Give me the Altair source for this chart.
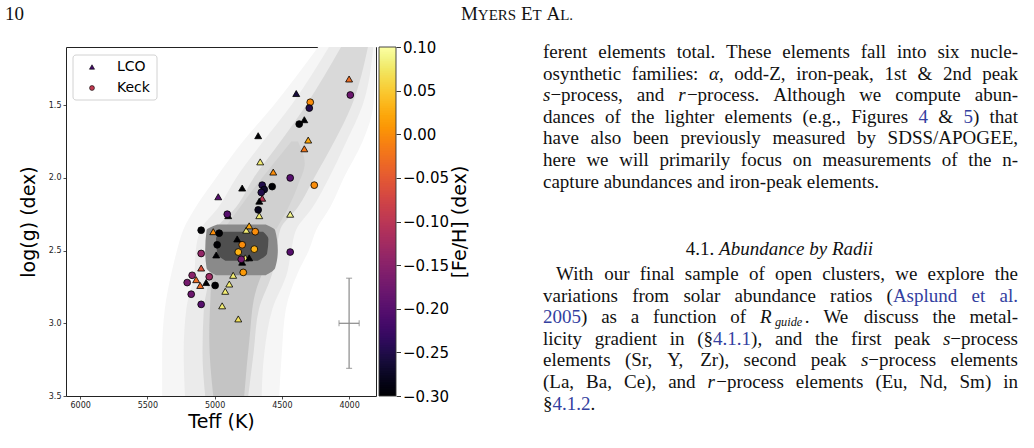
import re
import altair as alt
import numpy as np
import pandas as pd

# ---------------- spectroscopic sample ----------------
# LCO stars (triangles)
lco_teff = [4000, 4393, 4333, 4304, 4333, 4676, 4661, 4564, 4646, 4668, 4795, 4973, 4899, 4668, 4438,
            5010, 4765, 4743, 4832, 4988, 4772, 4743, 4795, 5100, 5137, 5063, 5107, 4862, 4891, 4921,
            4944, 4824]
lco_logg = [1.32, 1.42, 1.60, 1.74, 1.80, 1.71, 1.89, 1.96, 2.14, 2.16, 2.07, 2.13, 2.26, 2.26, 2.25,
            2.37, 2.36, 2.33, 2.42, 2.53, 2.55, 2.55, 2.58, 2.62, 2.70, 2.72, 2.74, 2.67, 2.73, 2.78,
            2.88, 2.97]
lco_feh = [-0.03, -0.26, -0.30, 0.02, -0.02, -0.30, 0.08, 0.00, -0.10, -0.30, -0.30, -0.20, -0.30, 0.08,
           0.09, 0.00, 0.08, 0.02, -0.30, -0.30, 0.08, -0.30, -0.30, -0.06, -0.03, -0.30, -0.03, 0.08,
           0.08, 0.08, 0.08, 0.07]

# Keck stars (circles)
keck_teff = [3991, 4289, 4296, 4371, 4438, 4259, 4646, 4572, 4631, 4653, 4906, 4676, 5100, 4966, 4698,
             4795, 4705, 4981, 4824, 5100, 4438, 4802, 4787, 5167, 5040, 4996, 5204, 5174, 5100]
keck_logg = [1.43, 1.48, 1.52, 1.63, 2.00, 2.05, 2.05, 2.06, 2.08, 2.10, 2.25, 2.22, 2.36, 2.38, 2.37,
             2.46, 2.49, 2.46, 2.51, 2.52, 2.51, 2.56, 2.65, 2.67, 2.68, 2.74, 2.72, 2.80, 2.87]
keck_feh = [-0.18, 0.00, -0.25, -0.30, -0.20, 0.00, -0.25, -0.30, -0.27, -0.25, -0.20, -0.28, -0.30,
            -0.30, 0.00, 0.00, 0.03, -0.30, 0.03, -0.14, -0.20, -0.17, 0.01, -0.15, -0.13, -0.30, -0.17,
            -0.18, -0.20]

# ---------------- field-star density (nested bands, outer -> inner) ----------------
band_logg = [1.10, 1.50, 1.75, 2.00, 2.20, 2.35, 2.50, 2.65, 2.90, 3.20, 3.50]
halo_lo = [4230, 4560, 4790, 4990, 5140, 5230, 5280, 5320, 5370, 5390, 5390]
halo_hi = [3800, 3820, 3900, 4040, 4140, 4240, 4300, 4380, 4470, 4500, 4520]
mid_lo = [4150, 4430, 4640, 4840, 4970, 5100, 5140, 5150, 5210, 5230, 5220]
mid_hi = [3820, 3900, 4020, 4150, 4270, 4390, 4430, 4460, 4570, 4630, 4650]
core_lo = [4060, 4320, 4510, 4710, 4840, 4990, 5040, 5040, 5080, 5090, 5070]
core_hi = [3860, 3980, 4110, 4260, 4380, 4510, 4540, 4570, 4670, 4710, 4750]

# denser part of the upper giant branch, just above the clump
up_logg = [1.75, 1.90, 2.05, 2.20, 2.35]
up_lo = [4430, 4560, 4690, 4810, 4930]
up_hi = [4380, 4330, 4380, 4450, 4540]

# lower giant branch below the clump is denser than the upper branch
low_logg = [2.60, 2.80, 3.10, 3.50]
low_lo = [5020, 5030, 5040, 5010]
low_hi = [4620, 4700, 4740, 4780]

clump_logg = [2.32, 2.36, 2.50, 2.62, 2.67]
clump_lo = [4980, 5060, 5070, 5060, 4990]
clump_hi = [4620, 4550, 4530, 4550, 4620]
rc_logg = [2.37, 2.42, 2.52, 2.57]
rc_lo = [4960, 4990, 4980, 4920]
rc_hi = [4640, 4600, 4610, 4680]

band_colors = ["#f6f6f6", "#ebebeb", "#d9d9d9", "#d0d0d0", "#c4c4c4", "#8a8a8a", "#4f4f4f"]

# typical uncertainty
err_teff, err_logg = [4000], [3.0]
err_dteff, err_dlogg = [75], [0.31]

# axes
teff_ticks = [6000, 5500, 5000, 4500, 4000]
logg_ticks = [1.5, 2.0, 2.5, 3.0, 3.5]
feh_ticks = [-0.30, -0.25, -0.20, -0.15, -0.10, -0.05, 0.00, 0.05, 0.10]
TEFF_DOM = [3800, 6105]
LOGG_DOM = [1.1, 3.5]
FEH_DOM = [-0.3, 0.1]

# ---------------- page text ----------------
header_runs = [("M", "sc", 19), ("YERS", "sc", 15), (" ", "sc", 19), ("E", "sc", 19), ("T", "sc", 15),
               (" ", "sc", 19), ("A", "sc", 19), ("L.", "sc", 15)]
para1 = [
    "ferent elements total. These elements fall into six nucle-",
    "osynthetic families: {i:α}, odd-Z, iron-peak, 1st & 2nd peak",
    "{i:s}−process, and {i:r}−process. Although we compute abun-",
    "dances of the lighter elements (e.g., Figures {b:4} & {b:5}) that",
    "have also been previously measured by SDSS/APOGEE,",
    "here we will primarily focus on measurements of the n-",
    "capture abundances and iron-peak elements.",
]
heading = [("4.1. ", "n"), ("Abundance by Radii", "i")]
para2 = [
    "With our final sample of open clusters, we explore the",
    "variations from solar abundance ratios ({b:Asplund} {b:et} {b:al.}",
    "{b:2005}) as a function of {i:R}{sub:guide}. We discuss the metal-",
    "licity gradient in (§{b:4.1.1}), and the first peak {i:s}−process",
    "elements (Sr, Y, Zr), second peak {i:s}−process elements",
    "(La, Ba, Ce), and {i:r}−process elements (Eu, Nd, Sm) in",
    "§{b:4.1.2}.",
]

# Times-compatible advance widths (1/1000 em) for Liberation Serif
WID = {" ": 250, ".": 250, ",": 250, ":": 278, ";": 278, "-": 333, "(": 333, ")": 333, "&": 778,
       "/": 278, "§": 500, "−": 564, "α": 520, "'": 333}
WID.update(dict(zip("abcdefghijklmnopqrstuvwxyz",
                    [444, 500, 444, 500, 444, 333, 500, 500, 278, 278, 500, 278, 778, 500, 500, 500,
                     500, 333, 389, 278, 500, 500, 722, 500, 500, 444])))
WID.update(dict(zip("ABCDEFGHIJKLMNOPQRSTUVWXYZ",
                    [722, 667, 667, 722, 611, 556, 722, 722, 333, 389, 722, 611, 889, 722, 722, 556,
                     722, 667, 556, 611, 722, 722, 944, 722, 722, 611])))
WID.update({d: 500 for d in "0123456789"})

BODY_FS = 19
TEXT_X0, TEXT_X1 = 543, 1018
LEAD = 21.6
SUB_DROP = 3.0


def text_width(t, fs, style="n"):
    w = sum(WID.get(c, 500) for c in t) * fs / 1000.0
    if style == "i" and t[-1:] in "Rr":
        w += 0.12 * fs  # italic overhang
    if style == "sub":
        w += 2.5
    return w


def parse_word(w):
    runs, pos = [], 0
    for m in re.finditer(r"\{(\w+):([^}]*)\}", w):
        if m.start() > pos:
            runs.append((w[pos:m.start()], "n"))
        runs.append((m.group(2), m.group(1)))
        pos = m.end()
    if pos < len(w):
        runs.append((w[pos:], "n"))
    return runs


def run_size(style):
    return BODY_FS * 0.65 if style == "sub" else BODY_FS


rows = []


def emit(x, y, t, style, fs):
    if style == "sub":
        rows.append(dict(px=x, py=y + SUB_DROP, txt=t, fs=fs, sty="i"))
    else:
        rows.append(dict(px=x, py=y, txt=t, fs=fs, sty=style))


def set_paragraph(lines, y_first, indent=0.0):
    for k, line in enumerate(lines):
        words = [parse_word(w) for w in line.split(" ")]
        widths = [sum(text_width(t, run_size(s), s) for t, s in w) for w in words]
        x_start = TEXT_X0 + (indent if k == 0 else 0)
        if k < len(lines) - 1 and len(words) > 1:
            gap = (TEXT_X1 - x_start - sum(widths)) / (len(words) - 1)
        else:
            gap = 0.25 * BODY_FS
        x = x_start
        y = y_first + k * LEAD
        for w, wd in zip(words, widths):
            cx = x
            for t, s in w:
                emit(cx, y, t, s, run_size(s))
                cx += text_width(t, run_size(s), s)
            x += wd + gap


set_paragraph(para1, 58)
set_paragraph(para2, 280, indent=13)

# section heading, centred on the column
head_w = sum(text_width(t, BODY_FS) for t, _ in heading)
hx = (TEXT_X0 + TEXT_X1) / 2 - head_w / 2
for t, s in heading:
    emit(hx, 255, t, s, BODY_FS)
    hx += text_width(t, BODY_FS)

# running head
emit(5, 20, "10", "n", BODY_FS)
sc_w = sum(text_width(t, f) for t, _, f in header_runs)
sx = 517 - sc_w / 2
for t, s, f in header_runs:
    if t.strip():
        emit(sx, 20, t, "n", f)
    sx += text_width(t, f)

page = pd.DataFrame(rows)

# ---------------- chart ----------------
PW, PH = 310, 349
SANS = "DejaVu Sans"
SERIF = "Liberation Serif"

teff_scale = alt.Scale(domain=TEFF_DOM, reverse=True, nice=False, zero=False)
logg_scale = alt.Scale(domain=LOGG_DOM, reverse=True, nice=False, zero=False)
feh_color = alt.Scale(scheme="inferno", domain=FEH_DOM, clamp=True)

x_axis = alt.Axis(values=teff_ticks, format="d", title="Teff (K)", titleFont=SANS, titleFontSize=19,
                  titleFontWeight="normal", titleColor="black", titlePadding=3, labelFont=SANS,
                  labelFontSize=8, labelColor="#222", labelPadding=2, tickColor="#222", tickSize=3,
                  tickWidth=0.8, domain=False, grid=False)
y_axis = alt.Axis(values=logg_ticks, format=".1f", title="log(g) (dex)", titleFont=SANS,
                  titleFontSize=19, titleFontWeight="normal", titleColor="black", titlePadding=10,
                  labelFont=SANS, labelFontSize=8, labelColor="#222", labelPadding=2, tickColor="#222",
                  tickSize=3, tickWidth=0.8, domain=False, grid=False)


def X(field):
    return alt.X(field, scale=teff_scale, axis=x_axis)


def Y(field):
    return alt.Y(field, scale=logg_scale, axis=y_axis)


def band(lo, hi, ys, color):
    df = pd.DataFrame({"logg": ys, "lo": lo, "hi": hi})
    return alt.Chart(df).mark_area(orient="horizontal", interpolate="monotone", color=color,
                                   opacity=1).encode(y=Y("logg:Q"), x=X("lo:Q"), x2="hi:Q")


bands = [
    band(halo_lo, halo_hi, band_logg, band_colors[0]),
    band(mid_lo, mid_hi, band_logg, band_colors[1]),
    band(core_lo, core_hi, band_logg, band_colors[2]),
    band(up_lo, up_hi, up_logg, band_colors[3]),
    band(low_lo, low_hi, low_logg, band_colors[4]),
    band(clump_lo, clump_hi, clump_logg, band_colors[5]),
    band(rc_lo, rc_hi, rc_logg, band_colors[6]),
]

err = pd.DataFrame({"teff": err_teff, "logg": err_logg, "dt": err_dteff, "dg": err_dlogg})
err = err.assign(t0=err.teff - err.dt, t1=err.teff + err.dt, g0=err.logg - err.dg, g1=err.logg + err.dg)
ERR_COL = "#8a8a8a"
eb = alt.Chart(err)
err_layers = [
    eb.mark_rule(color=ERR_COL, strokeWidth=1.2).encode(x=X("teff:Q"), y=Y("g0:Q"), y2="g1"),
    eb.mark_rule(color=ERR_COL, strokeWidth=1.2).encode(x=X("t0:Q"), x2="t1", y=Y("logg:Q")),
    eb.mark_tick(orient="horizontal", color=ERR_COL, size=6, thickness=1.2).encode(x=X("teff:Q"), y=Y("g0:Q")),
    eb.mark_tick(orient="horizontal", color=ERR_COL, size=6, thickness=1.2).encode(x=X("teff:Q"), y=Y("g1:Q")),
    eb.mark_tick(orient="vertical", color=ERR_COL, size=6, thickness=1.2).encode(x=X("t0:Q"), y=Y("logg:Q")),
    eb.mark_tick(orient="vertical", color=ERR_COL, size=6, thickness=1.2).encode(x=X("t1:Q"), y=Y("logg:Q")),
]


def stars(teff, logg, feh, shape, size):
    df = pd.DataFrame({"teff": teff, "logg": logg, "feh": feh})
    return alt.Chart(df).mark_point(shape=shape, filled=True, size=size, opacity=1, stroke="black",
                                    strokeWidth=0.8).encode(
        x=X("teff:Q"), y=Y("logg:Q"),
        color=alt.Color("feh:Q", scale=feh_color, legend=None),
    )


main = alt.layer(*bands, *err_layers,
                 stars(lco_teff, lco_logg, lco_feh, "triangle-up", 48),
                 stars(keck_teff, keck_logg, keck_feh, "circle", 46))

# ---------------- colour bar ----------------
edges = np.linspace(FEH_DOM[0], FEH_DOM[1], 201)
step = edges[1] - edges[0]
cb = pd.DataFrame({"v0": edges[:-1], "v1": edges[:-1] + 1.6 * step, "vm": edges[:-1] + step / 2})
cb["v1"] = cb["v1"].clip(upper=FEH_DOM[1])
CB_X0, CB_X1 = 313, 330
cbar_axis = alt.Axis(orient="right", offset=CB_X1 - PW, values=feh_ticks, format=".2f",
                     title="[Fe/H] (dex)", titleFont=SANS, titleFontSize=19, titleFontWeight="normal",
                     titleColor="black", titleAngle=-90, titleBaseline="top", titlePadding=2,
                     labelFont=SANS, labelFontSize=15, labelColor="black", labelPadding=2,
                     tickColor="black", tickSize=4.5, tickWidth=0.8, domain=False, grid=False)
cbar = alt.layer(
    alt.Chart(cb).mark_rect().encode(
        x=alt.value(CB_X0), x2=alt.value(CB_X1),
        y=alt.Y("v0:Q", scale=alt.Scale(domain=FEH_DOM, nice=False, zero=False), axis=cbar_axis),
        y2="v1:Q",
        color=alt.Color("vm:Q", scale=feh_color, legend=None),
    ),
    alt.Chart(pd.DataFrame({"a": [0]})).mark_rect(filled=False, stroke="#333", strokeWidth=0.9).encode(
        x=alt.value(CB_X0), x2=alt.value(CB_X1), y=alt.value(0), y2=alt.value(PH)),
)

# ---------------- legend ----------------
one = alt.Chart(pd.DataFrame({"a": [0]}))
legend = alt.layer(
    one.mark_rect(fill="white", fillOpacity=0.85, stroke="#d2d2d2", strokeWidth=1, cornerRadius=3).encode(
        x=alt.value(7), x2=alt.value(91), y=alt.value(8), y2=alt.value(53)),
    one.mark_point(shape="triangle-up", filled=True, size=26, opacity=1, color="#420a68", stroke="black",
                   strokeWidth=0.6).encode(x=alt.value(26), y=alt.value(20)),
    one.mark_point(shape="circle", filled=True, size=24, opacity=1, color="#c03a51", stroke="black",
                   strokeWidth=0.6).encode(x=alt.value(26), y=alt.value(41)),
    one.mark_text(text="LCO", font=SANS, fontSize=14, align="left", baseline="middle",
                  color="black").encode(x=alt.value(51), y=alt.value(20)),
    one.mark_text(text="Keck", font=SANS, fontSize=14, align="left", baseline="middle",
                  color="black").encode(x=alt.value(51), y=alt.value(41)),
)

# ---------------- page text (page pixel coordinates) ----------------
px_scale = alt.Scale(domain=[66, 66 + PW], range=[0, PW], nice=False, zero=False)
py_scale = alt.Scale(domain=[47, 47 + PH], range=[0, PH], nice=False, zero=False)


def text_layer(style, **mark):
    return alt.Chart(page).transform_filter(alt.datum.sty == style).mark_text(
        font=SERIF, align="left", baseline="alphabetic", **mark).encode(
        x=alt.X("px:Q", scale=px_scale, axis=None),
        y=alt.Y("py:Q", scale=py_scale, axis=None),
        text="txt:N",
        size=alt.Size("fs:Q", scale=None, legend=None),
    )


page_layer = alt.layer(
    text_layer("n", color="#111"),
    text_layer("i", color="#111", fontStyle="italic"),
    text_layer("b", color="#3340a0"),
)

chart = alt.layer(main, cbar, legend, page_layer).resolve_scale(
    x="independent", y="independent"
).properties(
    width=PW, height=PH,
    autosize=alt.AutoSizeParams(type="none"),
    padding={"left": 66, "top": 47, "right": 1034 - 66 - PW, "bottom": 448 - 47 - PH},
    background="white",
).configure_view(stroke="#222", strokeWidth=1)

chart.save("out.html", embed_options={"renderer": "svg", "actions": False})
